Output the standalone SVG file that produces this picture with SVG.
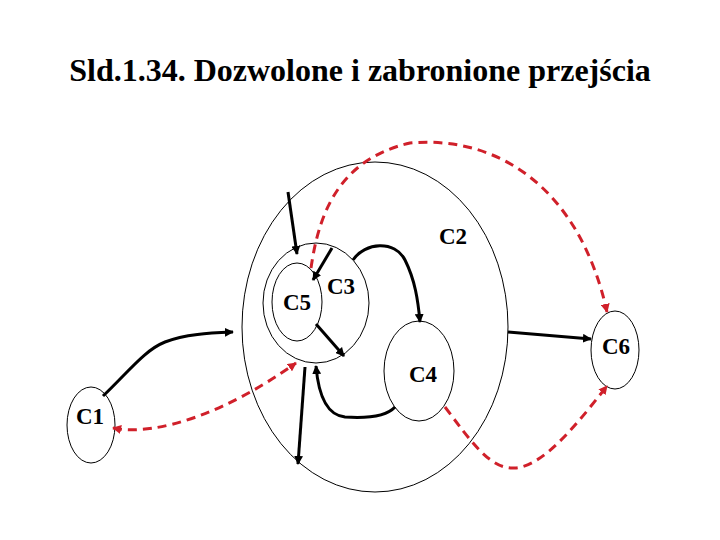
<svg xmlns="http://www.w3.org/2000/svg" width="720" height="540" viewBox="0 0 720 540">
<defs>
<marker id="ab" viewBox="0 0 10 10" refX="9" refY="5" markerWidth="3" markerHeight="3" orient="auto-start-reverse" markerUnits="strokeWidth"><path d="M0,0 L10,5 L0,10 z" fill="#000"/></marker>
<marker id="ar" viewBox="0 0 10 10" refX="9" refY="5" markerWidth="3" markerHeight="3" orient="auto-start-reverse" markerUnits="strokeWidth"><path d="M0,0 L10,5 L0,10 z" fill="#d0202a"/></marker>
</defs>
<style>
.n{fill:none;stroke:#000;stroke-width:1}
.t{font-family:"Liberation Serif","Times New Roman",serif;font-weight:bold;font-size:23px;fill:#000;text-anchor:middle}
.k{fill:none;stroke:#000;stroke-width:3;marker-end:url(#ab)}
.r{fill:none;stroke:#d0202a;stroke-width:3;stroke-dasharray:9,6}
</style>
<rect width="720" height="540" fill="#fff"/>
<text x="360" y="81" style="font-family:'Liberation Serif','Times New Roman',serif;font-weight:bold;font-size:32px;text-anchor:middle">Sld.1.34. Dozwolone i zabronione przejścia</text>
<g id="C2"><ellipse class="n" cx="375" cy="327" rx="133" ry="165"/><text class="t" x="453" y="244">C2</text></g>
<g id="C3"><ellipse class="n" cx="316" cy="303" rx="53" ry="60"/><text class="t" x="341" y="294">C3</text></g>
<g id="C5"><ellipse class="n" cx="297" cy="302" rx="25" ry="39"/><text class="t" x="297" y="310">C5</text></g>
<g id="C4"><ellipse class="n" cx="419" cy="371" rx="35" ry="50"/><text class="t" x="423" y="382">C4</text></g>
<g id="C6"><ellipse class="n" cx="615" cy="350" rx="24" ry="39"/><text class="t" x="616" y="354">C6</text></g>
<g id="C1"><ellipse class="n" cx="91" cy="425" rx="24" ry="38"/><text class="t" x="90" y="424">C1</text></g>
<g id="connectors">
<path class="k" d="M288,192 L297,254"/>
<path class="k" d="M332,248 L313,280"/>
<path class="k" d="M316,324 L344,356"/>
<path class="k" d="M353,260 C365,242 395,240 405,260 C415,280 418,300 420,322"/>
<path class="k" d="M508,332 L591,339"/>
<path class="k" d="M395,407 C385,418 360,418 345,417 C325,415 318,390 316,366"/>
<path class="k" d="M305,367 L298,464"/>
<path class="k" d="M103,396 C130,370 145,350 165,342 C185,334 210,333 233,332"/>
<path class="r" d="M113,428 C160,437 230,410 296,363" marker-start="url(#ar)" marker-end="url(#ar)"/>
<path class="r" d="M311,268 C318,220 335,160 410,143 C500,135 580,190 607,312" marker-end="url(#ar)"/>
<path class="r" d="M445,407 C470,440 490,470 515,468 C545,466 580,420 607,386" marker-end="url(#ar)"/>
</g>
</svg>
